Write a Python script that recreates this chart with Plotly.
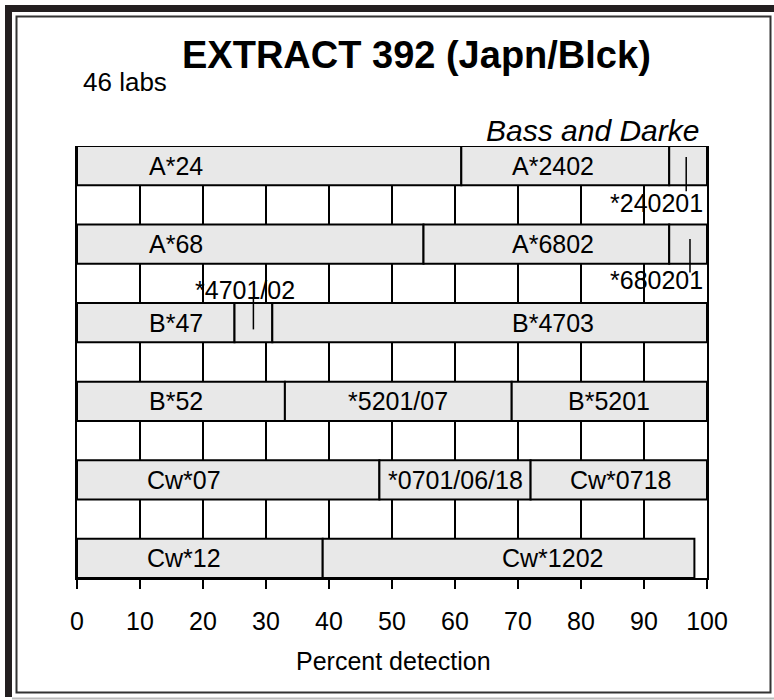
import plotly.graph_objects as go

# ---- data ----
row_names = ["A*24", "A*68", "B*47", "B*52", "Cw*07", "Cw*12"]
seg_row   = [0, 0, 0, 1, 1, 1, 2, 2, 2, 3, 3, 3, 4, 4, 4, 5, 5]
seg_start = [0, 61, 94, 0, 55, 94, 0, 25, 31, 0, 33, 69, 0, 48, 72, 0, 39]
seg_end   = [61, 94, 100, 55, 94, 100, 25, 31, 100, 33, 69, 100, 48, 72, 100, 39, 98]

inbar_labels = ["A*24", "A*2402", "A*68", "A*6802", "B*47", "B*4703",
                "B*52", "*5201/07", "B*5201", "Cw*07", "*0701/06/18", "Cw*0718",
                "Cw*12", "Cw*1202"]
inbar_row = [0, 0, 1, 1, 2, 2, 3, 3, 3, 4, 4, 4, 5, 5]
inbar_x   = [15.7, 75.6, 15.7, 75.6, 15.7, 75.6, 15.7, 51, 84.5, 17, 60, 86.3, 17, 75.4]

callout_labels = ["*240201", "*680201", "*4701/02"]
callout_row    = [0, 1, 2]
callout_x      = [92, 92, 26.7]
callout_line_x = [96.7, 97.3, 28]
callout_line_top = [-0.22, -0.13, -0.65]   # rows, relative to row centre (down positive)
callout_line_bot = [0.65, 0.72, 0.17]
callout_text_off = [0.94, 0.92, -0.83]

x_ticks = [0, 10, 20, 30, 40, 50, 60, 70, 80, 90, 100]

FONT = "Liberation Sans, Arial, sans-serif"
W, H = 774, 700
L, R, T, B = 77, 67, 146, 122
PW, PH = W - L - R, H - T - B


def row_y(i):
    return 10 - 2 * i


fig = go.Figure()
fig.add_trace(go.Bar(
    orientation="h",
    y=[row_y(r) for r in seg_row],
    x=[e - s for s, e in zip(seg_start, seg_end)],
    base=seg_start,
    width=1,
    marker=dict(color="#e8e8e8", line=dict(color="black", width=2)),
    hoverinfo="skip",
    showlegend=False,
))

annotations = []
for lab, r, x in zip(inbar_labels, inbar_row, inbar_x):
    annotations.append(dict(x=x, y=row_y(r), xref="x", yref="y", text=lab,
                            showarrow=False, font=dict(family=FONT, size=25, color="black"),
                            xanchor="center", yanchor="middle"))

shapes = []
for lab, r, x, lx, t0, t1, to in zip(callout_labels, callout_row, callout_x, callout_line_x,
                                      callout_line_top, callout_line_bot, callout_text_off):
    annotations.append(dict(x=x, y=row_y(r) - to, xref="x", yref="y", text=lab,
                            showarrow=False, font=dict(family=FONT, size=25, color="black"),
                            xanchor="center", yanchor="middle"))
    shapes.append(dict(type="line", xref="x", yref="y", x0=lx, x1=lx,
                       y0=row_y(r) - t0, y1=row_y(r) - t1,
                       line=dict(color="black", width=1.5), layer="above"))


def px_x(p):
    return (p - L) / PW


def px_y(p):
    return (H - B - p) / PH


# title-like texts
annotations.append(dict(x=px_x(81), y=px_y(82), xref="paper", yref="paper", text="46 labs",
                        showarrow=False, xanchor="left", yanchor="middle",
                        font=dict(family=FONT, size=26, color="black")))
annotations.append(dict(x=px_x(701), y=px_y(131), xref="paper", yref="paper",
                        text="<i>Bass and Darke</i>",
                        showarrow=False, xanchor="right", yanchor="middle",
                        font=dict(family=FONT, size=30, color="black")))
annotations.append(dict(x=px_x(416), y=px_y(55), xref="paper", yref="paper",
                        text="<b>EXTRACT 392 (Japn/Blck)</b>",
                        showarrow=False, xanchor="center", yanchor="middle",
                        font=dict(family=FONT, size=38, color="black")))
annotations.append(dict(x=px_x(393), y=px_y(661), xref="paper", yref="paper",
                        text="Percent detection",
                        showarrow=False, xanchor="center", yanchor="middle",
                        font=dict(family=FONT, size=25, color="black")))

# frame decorations (page border)
shapes += [
    dict(type="rect", xref="paper", yref="paper", x0=px_x(5), x1=px_x(774), y0=px_y(5), y1=px_y(12),
         fillcolor="#231f20", line=dict(width=0), layer="above"),
    dict(type="rect", xref="paper", yref="paper", x0=px_x(5), x1=px_x(12), y0=px_y(5), y1=px_y(697),
         fillcolor="#231f20", line=dict(width=0), layer="above"),
    dict(type="rect", xref="paper", yref="paper", x0=px_x(16.5), x1=px_x(770.5), y0=px_y(16.5), y1=px_y(692.5),
         fillcolor="rgba(0,0,0,0)", line=dict(color="#333333", width=2), layer="above"),
    dict(type="line", xref="paper", yref="paper", x0=px_x(12), x1=px_x(774), y0=px_y(698.5), y1=px_y(698.5),
         line=dict(color="#bbbbbb", width=2), layer="above"),
]

fig.update_layout(
    width=W, height=H,
    margin=dict(l=L, r=R, t=T, b=B, pad=0),
    paper_bgcolor="white", plot_bgcolor="white",
    barmode="overlay",
    showlegend=False,
    annotations=annotations,
    shapes=shapes,
    xaxis=dict(range=[0, 100], tickvals=x_ticks, ticktext=[str(v) for v in x_ticks],
               showgrid=True, gridcolor="black", gridwidth=2, zeroline=False,
               showline=True, linecolor="black", linewidth=2,
               ticks="outside", ticklen=9, tickwidth=2, tickcolor="black",
               ticklabelstandoff=11,
               tickfont=dict(family=FONT, size=25, color="black"),
               fixedrange=True),
    yaxis=dict(range=[-0.5, 10.5], showgrid=False, zeroline=False, showticklabels=False,
               ticks="", showline=True, mirror=True, linecolor="black", linewidth=2,
               fixedrange=True),
)

fig.write_html("out.html", config={"displayModeBar": False},
               post_script="document.body.style.margin='0px';document.body.style.overflow='hidden';")
